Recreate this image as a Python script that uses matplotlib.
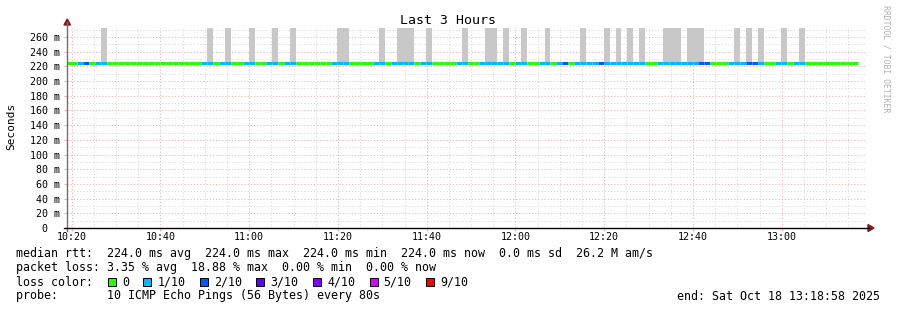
import numpy as np
import matplotlib
matplotlib.use('Agg')
import matplotlib.pyplot as plt
import matplotlib.dates as mdates
from matplotlib.lines import Line2D
from matplotlib.patches import Rectangle, Polygon

# ---- data ----
t_start = np.datetime64('2025-10-18T10:18:58')
t_end = np.datetime64('2025-10-18T13:18:58')
first_step_end = np.datetime64('2025-10-18T10:21:13')
step_sec = 80

# loss per probe round, in tenths (10 pings per round)
loss = [0, 1, 2, 0, 1, 1, 0, 0, 0, 0,
        0, 0, 0, 0, 0, 0, 0, 0, 0, 0,
        0, 0, 1, 1, 0, 1, 1, 0, 0, 1,
        1, 0, 0, 1, 1, 0, 1, 1, 0, 0,
        0, 0, 0, 0, 1, 1, 1, 0, 0, 0,
        0, 1, 1, 0, 1, 1, 1, 1, 0, 1,
        1, 0, 0, 0, 0, 1, 1, 0, 0, 1,
        1, 1, 1, 1, 0, 1, 1, 0, 0, 1,
        1, 0, 1, 2, 0, 1, 1, 1, 1, 2,
        1, 1, 1, 1, 1, 1, 1, 0, 0, 1,
        1, 1, 1, 1, 1, 1, 2, 2, 0, 0,
        0, 1, 1, 1, 2, 2, 1, 0, 0, 1,
        1, 0, 1, 1, 0, 0, 0, 0, 0, 0,
        0, 0, 0]
median_ms = [224.0] * len(loss)

# rounds that show smoke (spread above the median), top clipped by the graph
smoke_steps = [5, 23, 26, 30, 34, 37, 45, 46, 52, 55, 56, 57, 60, 66, 70, 71,
               73, 76, 80, 86, 90, 92, 94, 96, 100, 101, 102, 104, 105, 106,
               112, 114, 116, 120, 123]
smoke_top_ms = 272.3

loss_labels = ['0', '1/10', '2/10', '3/10', '4/10', '5/10', '9/10']
loss_colors = ['#26ff00', '#00b8ff', '#0059ff', '#5e00ff', '#7e00ff', '#dd00ff', '#ff0000']

stats_rtt = 'median rtt:  224.0 ms avg  224.0 ms max  224.0 ms min  224.0 ms now  0.0 ms sd  26.2 M am/s'
stats_loss = 'packet loss: 3.35 % avg  18.88 % max  0.00 % min  0.00 % now'
probe_text = 'probe:       10 ICMP Echo Pings (56 Bytes) every 80s'
end_text = 'end: Sat Oct 18 13:18:58 2025'

# ---- figure ----
W, H = 897, 310
def fx(px):
    return px / W
def fy(py):
    return 1 - py / H

mono = 'DejaVu Sans Mono'
fig = plt.figure(figsize=(W / 100, H / 100), dpi=100)
ax = fig.add_axes([fx(67), fy(228), fx(866) - fx(67), fy(28) - fy(228)])

ends = first_step_end + np.timedelta64(step_sec, 's') * np.arange(len(loss))
starts = np.concatenate([[t_start], ends[:-1]])
x0 = mdates.date2num(starts)
x1 = mdates.date2num(ends)

# smoke
sm = np.array(smoke_steps)
med = np.array(median_ms)
ax.bar(x0[sm], smoke_top_ms - med[sm], width=(x1 - x0)[sm], bottom=med[sm],
       align='edge', color='#c8c8c8', linewidth=0, zorder=2)

# median line coloured by loss
ax.hlines(med, x0, x1, colors=[loss_colors[l] for l in loss],
          linewidth=2.2, zorder=3)

ax.set_xlim(mdates.date2num(t_start), mdates.date2num(t_end))
ax.set_ylim(0, 272.3)

yt = list(range(0, 261, 20))
ax.set_yticks(yt)
# rrdtool pads the unit-less zero so the digits line up
ax.set_yticklabels(['0  ' if v == 0 else '%d m' % v for v in yt], family=mono, fontsize=7.2)
ax.set_yticks(range(10, 271, 20), minor=True)
ax.xaxis.set_major_locator(mdates.MinuteLocator(byminute=[0, 20, 40]))
ax.xaxis.set_minor_locator(mdates.MinuteLocator(byminute=range(0, 60, 5)))
ax.xaxis.set_major_formatter(mdates.DateFormatter('%H:%M'))
for lab in ax.get_xticklabels():
    lab.set_family(mono)
    lab.set_fontsize(7.2)

ax.set_axisbelow(True)
ax.grid(which='minor', color='#d8d8d8', linestyle=(0, (1.3, 2.2)), linewidth=0.65)
ax.grid(which='major', color='#f0b0b0', linestyle=(0, (1.3, 2.2)), linewidth=0.65)
ax.tick_params(axis='y', which='major', length=2, color='#f0b0b0', pad=3)
ax.tick_params(axis='x', which='major', length=2, color='#f0b0b0', pad=1)
ax.tick_params(which='minor', length=0)
for s in ax.spines.values():
    s.set_visible(False)

# axes with arrows
fig.add_artist(Line2D([fx(67), fx(67)], [fy(231), fy(22)], color='#707070', linewidth=1))
fig.add_artist(Line2D([fx(64), fx(869)], [fy(228), fy(228)], color='black', linewidth=1))
fig.add_artist(Polygon([[fx(64), fy(25)], [fx(70.5), fy(25)], [fx(67.2), fy(19)]],
                       closed=True, color='#8b1a1a'))
fig.add_artist(Polygon([[fx(868), fy(224.5)], [fx(868), fy(231.5)], [fx(874), fy(228)]],
                       closed=True, color='#8b1a1a'))

# titles
fig.text(fx(448), fy(20), 'Last 3 Hours', family=mono, fontsize=9.5, ha='center', va='center')
fig.text(fx(11), fy(126), 'Seconds', family=mono, fontsize=8, rotation=90, ha='center', va='center')
fig.text(fx(886), fy(5), 'RRDTOOL / TOBI OETIKER', family=mono, fontsize=5.9, rotation=270,
         ha='center', va='top', color='#b0b0b0')

# legend block
fs = 8.4
cw = 7.07
fig.text(fx(16), fy(254), stats_rtt, family=mono, fontsize=fs, va='center')
fig.text(fx(16), fy(268), stats_loss, family=mono, fontsize=fs, va='center')
fig.text(fx(16), fy(282), 'loss color:', family=mono, fontsize=fs, va='center')
xp = 108
for lab, col in zip(loss_labels, loss_colors):
    fig.add_artist(Rectangle((fx(xp), fy(286)), fx(8), 8 / H, facecolor=col,
                             edgecolor='black', linewidth=0.7))
    fig.text(fx(xp + 2 * cw), fy(282), lab, family=mono, fontsize=fs, va='center')
    xp += (4 + len(lab)) * cw
fig.text(fx(16), fy(296), probe_text, family=mono, fontsize=fs, va='center')
fig.text(fx(880), fy(296), end_text, family=mono, fontsize=fs, va='center', ha='right')

fig.savefig('out.png', dpi=100)
